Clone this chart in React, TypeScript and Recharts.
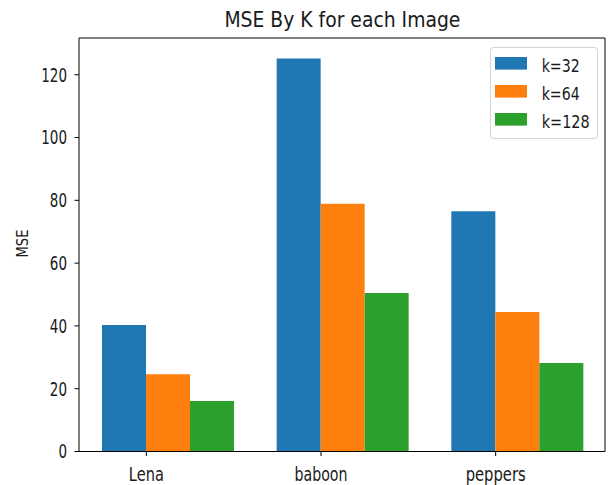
import React from 'react';
import { BarChart, Bar, XAxis, YAxis, Legend } from 'recharts';

const categories = ['Lena', 'baboon', 'peppers'];
const k32 = [40.3, 125.2, 76.5];
const k64 = [24.6, 78.9, 44.4];
const k128 = [16.1, 50.5, 28.2];
const seriesNames = ['k=32', 'k=64', 'k=128'];
const yTicks = [0, 20, 40, 60, 80, 100, 120];
const colors = ['#1f77b4', '#ff7f0e', '#2ca02c'];
const titleText = 'MSE By K for each Image';
const yLabelText = 'MSE';

const data = categories.map((c, i) => ({ name: c, k32: k32[i], k64: k64[i], k128: k128[i] }));

const FONT = 'DejaVu Sans, sans-serif';
const TEXT = '#1a1a1a';
const BAR_W = 44;

const xLabelWidths: Record<string, number> = { Lena: 35, baboon: 53, peppers: 60 };
const legendWidths: Record<string, number> = { 'k=32': 38, 'k=64': 38, 'k=128': 48 };

const YTick = (props: any) => {
  const { x, y, payload } = props;
  const s = String(payload.value);
  return (
    <text x={x} y={y} dy="0.36em" textAnchor="end" fontSize={19} fontFamily={FONT} fill={TEXT}
      textLength={s.length * 8.6} lengthAdjust="spacingAndGlyphs">{s}</text>
  );
};

const XTick = (props: any) => {
  const { x, y, payload } = props;
  const s = String(payload.value);
  const cx = x - BAR_W / 2;
  return (
    <g>
      <line x1={cx} x2={cx} y1={y} y2={y + 4.5} stroke="#000" strokeWidth={1} />
      <text x={cx} y={y + 29.5} textAnchor="middle" fontSize={19.5} fontFamily={FONT} fill={TEXT}
        textLength={xLabelWidths[s] ?? s.length * 8.6} lengthAdjust="spacingAndGlyphs">{s}</text>
    </g>
  );
};

const LegendBox = (props: any) => {
  const raw = props.payload || [];
  const payload = [...raw].sort((a: any, b: any) => seriesNames.indexOf(a.value) - seriesNames.indexOf(b.value));
  return (
    <svg width={108} height={92} style={{ display: 'block', overflow: 'visible' }}>
      <rect x={0.5} y={0.5} width={107} height={91} rx={3} fill="#fff" fillOpacity={0.8} stroke="#d4d4d4" />
      {payload.map((p: any, i: number) => (
        <g key={i}>
          <rect x={5} y={10 + i * 28} width={32} height={12.6} fill={p.color ?? colors[i]} />
          <text x={51.7} y={25 + i * 28} fontSize={18} fontFamily={FONT} fill={TEXT}
            textLength={legendWidths[p.value] ?? 40} lengthAdjust="spacingAndGlyphs">{p.value}</text>
        </g>
      ))}
    </svg>
  );
};

export default function App() {
  return (
    <div style={{ position: 'absolute', left: 0, top: 0, width: 609, height: 485, background: '#fff' }}>
      <BarChart width={609} height={485} data={data} margin={{ top: 37, right: 3, left: 0, bottom: 0 }}
        barGap={0} barSize={BAR_W}>
        <XAxis dataKey="name" height={33.5} padding={{ left: 2, right: 0 }} tickSize={0} tickMargin={0}
          tickLine={false} axisLine={{ stroke: '#000', strokeWidth: 1 }} tick={<XTick />} interval={0} />
        <XAxis xAxisId="top" dataKey="name" orientation="top" height={1} tick={false} tickLine={false}
          axisLine={{ stroke: '#000', strokeWidth: 1 }} />
        <YAxis width={79} domain={[0, 131.7]} ticks={yTicks} tickSize={4.5} tickMargin={7.5}
          tickLine={{ stroke: '#000', strokeWidth: 1 }} axisLine={{ stroke: '#000', strokeWidth: 1 }}
          tick={<YTick />} interval={0} allowDataOverflow />
        <YAxis yAxisId="right" orientation="right" width={1} tick={false} tickLine={false}
          axisLine={{ stroke: '#000', strokeWidth: 1 }} />
        <Legend layout="vertical" align="center" verticalAlign="middle" content={<LegendBox />}
          wrapperStyle={{ position: 'absolute', left: 490, top: 46.5, width: 108, height: 92, margin: 0, overflow: 'visible' }} />
        <Bar dataKey="k32" name={seriesNames[0]} fill={colors[0]} isAnimationActive={false} />
        <Bar dataKey="k64" name={seriesNames[1]} fill={colors[1]} isAnimationActive={false} />
        <Bar dataKey="k128" name={seriesNames[2]} fill={colors[2]} isAnimationActive={false} />
      </BarChart>
      <svg width={609} height={485} style={{ position: 'absolute', left: 0, top: 0, pointerEvents: 'none' }}>
        <text x={342.4} y={27.3} textAnchor="middle" fontSize={22} fontFamily={FONT} fill={TEXT}
          textLength={236} lengthAdjust="spacingAndGlyphs">{titleText}</text>
        <text x={27.5} y={243.5} textAnchor="middle" fontSize={16} fontFamily={FONT} fill={TEXT}
          transform="rotate(-90 27.5 243.5)" textLength={28} lengthAdjust="spacingAndGlyphs">{yLabelText}</text>
      </svg>
    </div>
  );
}
